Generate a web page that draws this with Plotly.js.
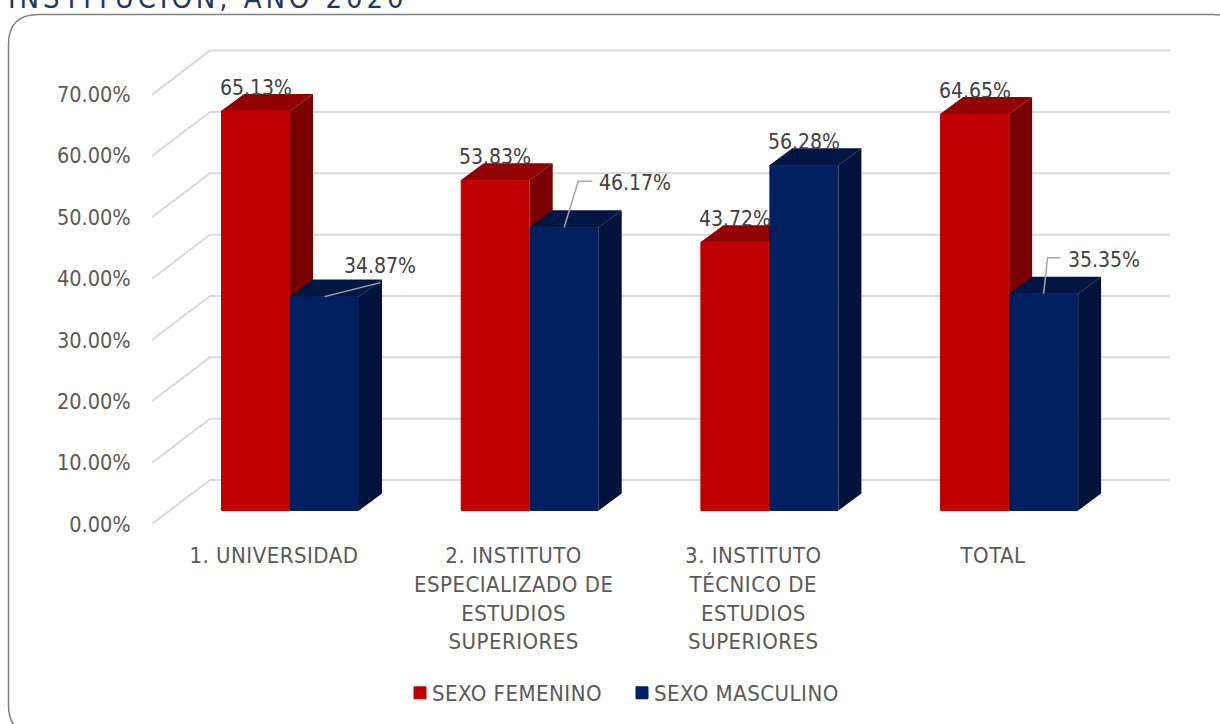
<!DOCTYPE html>
<html><head><meta charset="utf-8">
<script src="https://cdn.plot.ly/plotly-3.0.1.min.js"></script>
<style>
html,body{margin:0;padding:0;background:#fff;overflow:hidden}
#c{width:1220px;height:724px}
.gtitle{letter-spacing:3.9px;transform:translateY(-2px)}
.legendtext{transform:translateX(-8px);letter-spacing:.5px}
.xtick text{letter-spacing:.5px}
</style></head><body><div id="c"></div>
<script>
const categories=["1. UNIVERSIDAD","2. INSTITUTO<br>ESPECIALIZADO DE<br>ESTUDIOS<br>SUPERIORES","3. INSTITUTO<br>TÉCNICO DE<br>ESTUDIOS<br>SUPERIORES","TOTAL"];
const femenino=[65.13,53.83,43.72,64.65];
const masculino=[34.87,46.17,56.28,35.35];
const yTicks=[0,10,20,30,40,50,60,70];
const femShift=[[0,-23],[0,-23],[0,-23],[0,-23]];
const masShift=[[55,-31],[71,-44],[0,-23],[60,-34]];

const FONT='"DejaVu Sans Condensed","DejaVu Sans",sans-serif';
const W=1220,H=724,L=152,R=1170,B=524,T=40;
const pxX=239.7, pxY=6.134;
const x0=-(290-L)/pxX, x1=(R-290)/pxX;
const yTop=(B-T)/pxY;
const barShift=13.5/pxY;
const bw=69/pxX;
const depthX=23/pxX, depthY=17/pxY;
const wallX=58/pxX, wallY=44/pxY;

function grid(){const xs=[],ys=[];yTicks.forEach(v=>{xs.push(x0,x0+wallX,x1,null);ys.push(v,v+wallY,v+wallY,null);});return {x:xs,y:ys};}
function side(vals,off){const xs=[],ys=[];vals.forEach((v,i)=>{const r=i+off+bw;xs.push(r,r+depthX,r+depthX,r,r,null);ys.push(0,depthY,v+depthY,v,0,null);});return {x:xs,y:ys};}
function top_(vals,off){const xs=[],ys=[];vals.forEach((v,i)=>{const l=i+off,r=l+bw;xs.push(l,r,r+depthX,l+depthX,l,null);ys.push(v,v,v+depthY,v+depthY,v,null);});return {x:xs,y:ys};}
const face=(d,c)=>({type:'scatter',mode:'lines',x:d.x,y:d.y,yaxis:'y2',fill:'toself',fillcolor:c,line:{width:0,color:c},showlegend:false,hoverinfo:'skip'});
const idx=categories.map((_,i)=>i);

const traces=[
 {type:'scatter',mode:'lines',x:grid().x,y:grid().y,line:{color:'#d9d9d9',width:2},showlegend:false,hoverinfo:'skip'},
 face(side(femenino,-bw),'#7a0000'),
 face(top_(femenino,-bw),'#920000'),
 face(side(masculino,0),'#00133a'),
 face(top_(masculino,0),'#001744'),
 {type:'bar',name:'SEXO FEMENINO',x:idx.map(i=>i-bw/2),y:femenino,width:bw-1/pxX,yaxis:'y3',marker:{color:'#c00000',line:{color:'#c00000',width:1}}},
 {type:'bar',name:'SEXO MASCULINO',x:idx.map(i=>i+bw/2),y:masculino,width:bw-1/pxX,yaxis:'y3',marker:{color:'#002060',line:{color:'#002060',width:1}}}
];
const ann=(v,i,off,s)=>({x:i+off,y:v,xref:'x',yref:'y3',text:v.toFixed(2)+'%',showarrow:false,xanchor:'center',yanchor:'middle',xshift:s[0],yshift:-s[1],font:{family:FONT,size:21,color:'#404040'}});
const annotations=[];
idx.forEach(i=>{annotations.push(ann(femenino[i],i,-bw/2,femShift[i]));annotations.push(ann(masculino[i],i,bw/2,masShift[i]));});

const lead=(i,v,pts)=>({type:'path',layer:'above',xref:'x',yref:'y3',line:{color:'#a6a6a6',width:1.5},
  path:pts.map((p,k)=>(k?'L':'M')+(i+bw/2+p[0]/pxX)+','+(v+p[1]/pxY)).join(' ')});
const r=30;
const shapes=[
 {type:'path',xref:'paper',yref:'paper',layer:'below',line:{color:'#7f7f7f',width:1.5},
  path:(()=>{const px=a=>(a-L)/(R-L),py=b=>(B-b)/(B-T);
   const xa=8.5,xb=1243,ya=14.5,yb=735;
   return `M${px(xb)},${py(ya+r)} Q${px(xb)},${py(ya)} ${px(xb-r)},${py(ya)} L${px(xa+r)},${py(ya)} Q${px(xa)},${py(ya)} ${px(xa)},${py(ya+r)} L${px(xa)},${py(yb-r)} Q${px(xa)},${py(yb)} ${px(xa+r)},${py(yb)}`;})()},
 lead(0,masculino[0],[[0,0],[56,14]]),
 lead(1,masculino[1],[[0,0],[14,46],[28,46]]),
 lead(3,masculino[3],[[0,0],[4,36],[17,36]])
];
const layout={
 width:W,height:H,paper_bgcolor:'#fff',plot_bgcolor:'rgba(0,0,0,0)',
 margin:{l:L,r:W-R,t:T,b:H-B,pad:0},
 barmode:'overlay',bargap:0,
 title:{text:'INSTITUCIÓN, AÑO 2020',x:8/W,xanchor:'left',y:1,yanchor:'middle',font:{family:FONT,size:29,color:'#1f3864'}},
 xaxis:{type:'linear',range:[x0,x1],tickmode:'array',tickvals:idx.map(i=>i-0.067),ticktext:categories,showgrid:false,zeroline:false,showline:false,ticks:'outside',ticklen:12,tickcolor:'rgba(0,0,0,0)',tickfont:{family:FONT,size:22,color:'#595959'}},
 yaxis:{range:[0,yTop],tickmode:'array',tickvals:yTicks,ticktext:yTicks.map(v=>v.toFixed(2)+'%'),showgrid:false,zeroline:false,showline:false,ticks:'outside',ticklen:16,tickcolor:'rgba(0,0,0,0)',tickfont:{family:FONT,size:21.5,color:'#595959'}},
 yaxis2:{overlaying:'y',range:[-barShift,yTop-barShift],visible:false},
 yaxis3:{overlaying:'y',range:[-barShift,yTop-barShift],visible:false},
 legend:{orientation:'h',xref:'container',yref:'container',x:400/W,xanchor:'left',y:(H-672)/H,yanchor:'top',font:{family:FONT,size:22,color:'#595959'},entrywidth:177,entrywidthmode:'pixels',traceorder:'normal',bgcolor:'rgba(0,0,0,0)'},
 annotations,shapes,showlegend:true
};
Plotly.newPlot('c',traces,layout,{displayModeBar:false,staticPlot:true});
</script></body></html>
